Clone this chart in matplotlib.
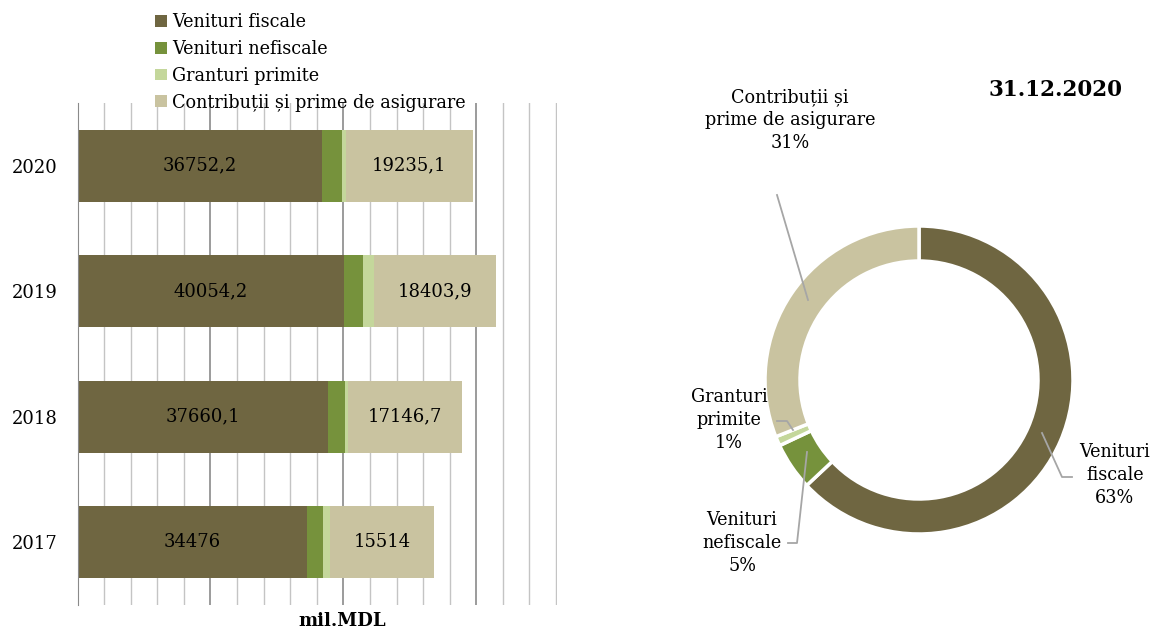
import numpy as np
import matplotlib.pyplot as plt
from matplotlib.ticker import MultipleLocator

plt.rcParams['font.family'] = 'DejaVu Serif'
plt.rcParams['font.size'] = 12.7

# Data (mil. MDL)
years = ['2017', '2018', '2019', '2020']
venituri_fiscale = [34476, 37660.1, 40054.2, 36752.2]
venituri_nefiscale = [2420, 2570, 2930, 3080]
granturi_primite = [1160, 450, 1600, 500]
contributii = [15514, 17146.7, 18403.9, 19235.1]

series_names = ['Venituri fiscale', 'Venituri nefiscale', 'Granturi primite',
                'Contribuții și prime de asigurare']
colors = ['#6F6641', '#76923C', '#C4D79B', '#C9C3A0']

# Donut structure at 31.12.2020 (%)
donut_values = [63, 5, 1, 31]
donut_labels = ['Venituri\nfiscale\n63%', 'Venituri\nnefiscale\n5%',
                'Granturi\nprimite\n1%', 'Contribuții și\nprime de asigurare\n31%']

W, H = 1160, 629
fig = plt.figure(figsize=(W / 100, H / 100), dpi=100)

# ---- stacked bars ----
ax = fig.add_axes([77.5 / W, 24 / H, (557 - 77.5) / W, (605 - 103) / H])
y = np.arange(len(years))
left = np.zeros(len(years))
containers = []
for vals, name, col in zip([venituri_fiscale, venituri_nefiscale,
                            granturi_primite, contributii], series_names, colors):
    c = ax.barh(y, vals, left=left, height=0.575, color=col, label=name, zorder=3)
    containers.append(c)
    left = left + np.array(vals)

fmt = lambda v: '{:g}'.format(v).replace('.', ',')
ax.bar_label(containers[0], labels=[fmt(v) for v in venituri_fiscale],
             label_type='center', fontsize=13)
ax.bar_label(containers[3], labels=[fmt(v) for v in contributii],
             label_type='center', fontsize=13)

ax.set_xlim(0, 72150)
ax.set_ylim(-0.5, 3.5)
ax.set_yticks(y)
ax.set_yticklabels(years, fontsize=13)
ax.xaxis.set_major_locator(MultipleLocator(20000))
ax.xaxis.set_minor_locator(MultipleLocator(4000))
ax.grid(axis='x', which='minor', color='#c4c4c4', linewidth=1.0, zorder=0)
ax.grid(axis='x', which='major', color='#8a8a8a', linewidth=1.2, zorder=0)
ax.tick_params(axis='x', which='both', length=0, labelbottom=False)
ax.tick_params(axis='y', length=0, pad=14)
for s in ['top', 'right', 'bottom']:
    ax.spines[s].set_visible(False)
ax.spines['left'].set_color('#8a8a8a')
ax.spines['left'].set_zorder(4)

fig.text(342 / W, 1 - 621 / H, 'mil.MDL', ha='center', va='center',
         fontweight='bold', fontsize=13)

fig.legend(handles=containers, labels=series_names, loc='upper left',
           bbox_to_anchor=(148 / W, 1 - 6 / H), frameon=False,
           handlelength=0.65, handleheight=0.65, handletextpad=0.3,
           labelspacing=0.5, fontsize=12.7, borderaxespad=0)

# ---- donut ----
ax2 = fig.add_axes([600 / W, 0, (W - 600) / W, 1])
cx, cy, r = 919, H - 380, 154
ax2.pie(donut_values, colors=colors, startangle=90, counterclock=False,
        center=(cx, cy), radius=r,
        wedgeprops=dict(width=35, edgecolor='white', linewidth=2.5))
ax2.set_xlim(600, W)
ax2.set_ylim(0, H)
ax2.set_aspect('equal')
ax2.axis('off')

line_kw = dict(color='#a6a6a6', linewidth=1.3)
# leader lines (pixel coordinates of the figure)
ax2.plot([1072, 1062, 1042], [H - 477, H - 477, H - 433], **line_kw)
ax2.plot([788, 797, 807], [H - 543, H - 543, H - 452], **line_kw)
ax2.plot([777, 787, 793], [H - 421, H - 421, H - 430], **line_kw)
ax2.plot([777, 808], [H - 195, H - 300], **line_kw)

txt_kw = dict(ha='center', va='center', fontsize=12.7, linespacing=1.35)
ax2.text(1115, H - 475, donut_labels[0], **txt_kw)
ax2.text(742, H - 543, donut_labels[1], **txt_kw)
ax2.text(729, H - 420, donut_labels[2], **txt_kw)
ax2.text(790, H - 120, donut_labels[3], **txt_kw)

fig.text(1055 / W, 1 - 90 / H, '31.12.2020', ha='center', va='center',
         fontweight='bold', fontsize=15.5)

fig.savefig('out.png', dpi=100)
